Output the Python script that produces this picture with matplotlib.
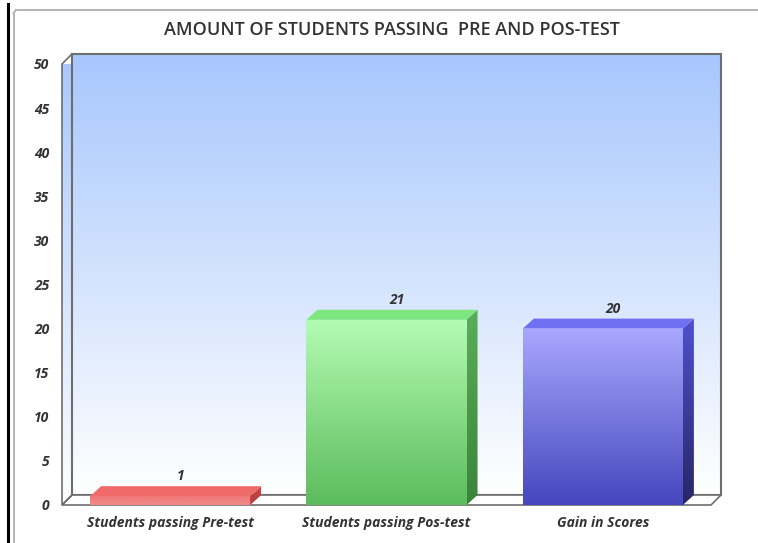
import numpy as np
import matplotlib
matplotlib.use("Agg")
import matplotlib.pyplot as plt
from matplotlib.patches import Polygon, Rectangle
from matplotlib.lines import Line2D
from matplotlib.colors import LinearSegmentedColormap

# ---------------- data ----------------
title = "AMOUNT OF STUDENTS PASSING  PRE AND POS-TEST"
categories = ["Students passing Pre-test", "Students passing Pos-test", "Gain in Scores"]
values = [1, 21, 20]
y_ticks = [0, 5, 10, 15, 20, 25, 30, 35, 40, 45, 50]

# colours (front top, front bottom, top face, side top, side bottom)
bar_colors = [
    ("#f07878", "#f08a8a", "#f06a6a", "#c84848", "#b03c3c"),
    ("#b4fcb4", "#5cbc5c", "#7ee67e", "#5aae5a", "#3a843a"),
    ("#a8a8ff", "#4646be", "#7070f2", "#5050d0", "#262664"),
]
wall_top, wall_bottom = "#a7c7fd", "#ffffff"
txt = "#333333"
font = "Open Sans"

W, H = 758, 543
fig = plt.figure(figsize=(W / 100, H / 100), dpi=100)
fig.patch.set_facecolor("white")
ax = fig.add_axes([62 / W, 1 - 505 / H, (711 - 62) / W, (505 - 64) / H])
ax.set_facecolor("none")
n = len(categories)
xmin, xmax = -0.5, n - 0.5
ymin, ymax = y_ticks[0], y_ticks[-1]


def px2data(dxp, dyp):
    inv = ax.transData.inverted()
    x0, y0 = inv.transform((0, 0))
    x1, y1 = inv.transform((dxp, dyp))
    return x1 - x0, y1 - y0


ax.set_xlim(xmin, xmax)
ax.set_ylim(ymin, ymax)
wdx, wdy = px2data(10, 10)
bdx, bdy = px2data(11, 10)

grad = np.linspace(0, 1, 256).reshape(-1, 1)
wall_cmap = LinearSegmentedColormap.from_list("wall", [wall_bottom, wall_top])
edge = "#6e6e6e"

# back wall
ax.imshow(grad, extent=(xmin + wdx, xmax + wdx, ymin + wdy, ymax + wdy), origin="lower",
          cmap=wall_cmap, aspect="auto", clip_on=False, zorder=0)
ax.add_patch(Rectangle((xmin + wdx, ymin + wdy), xmax - xmin, ymax - ymin, fill=False,
                       edgecolor=edge, lw=1.5, clip_on=False, zorder=1))
# left wall
lw_poly = Polygon([(xmin, ymin), (xmin, ymax), (xmin + wdx, ymax + wdy), (xmin + wdx, ymin + wdy)],
                  closed=True, facecolor="none", edgecolor=edge, lw=1.2, clip_on=False, zorder=1.2)
ax.add_patch(lw_poly)
im = ax.imshow(grad, extent=(xmin, xmin + wdx, ymin, ymax + wdy), origin="lower",
               cmap=wall_cmap, aspect="auto", zorder=0.5)
im.set_clip_path(lw_poly)
# floor
ax.add_patch(Polygon([(xmin, ymin), (xmax, ymin), (xmax + wdx, ymin + wdy), (xmin + wdx, ymin + wdy)],
                     closed=True, facecolor="white", edgecolor=edge, lw=1.2, clip_on=False, zorder=1.1))

# bars
width = 0.74
bars = ax.bar(range(n), values, width=width, color=[c[1] for c in bar_colors], zorder=3,
              linewidth=0)
for i, (rect, v, cols) in enumerate(zip(bars, values, bar_colors)):
    x0 = rect.get_x()
    x1 = x0 + rect.get_width()
    cm = LinearSegmentedColormap.from_list(f"f{i}", [cols[1], cols[0]])
    gi = ax.imshow(grad, extent=(x0, x1, 0, v), origin="lower", cmap=cm, aspect="auto", zorder=3.1)
    gi.set_clip_path(rect)
    # top face
    ax.add_patch(Polygon([(x0, v), (x1, v), (x1 + bdx, v + bdy), (x0 + bdx, v + bdy)], closed=True,
                         facecolor=cols[2], edgecolor="none", zorder=3.2, clip_on=False))
    # side face
    side = Polygon([(x1, 0), (x1, v), (x1 + bdx, v + bdy), (x1 + bdx, bdy)], closed=True,
                   facecolor="none", edgecolor="none", zorder=3.2, clip_on=False)
    ax.add_patch(side)
    cs = LinearSegmentedColormap.from_list(f"s{i}", [cols[4], cols[3]])
    si = ax.imshow(grad, extent=(x1, x1 + bdx, 0, v + bdy), origin="lower", cmap=cs, aspect="auto",
                   zorder=3.15, clip_on=True)
    si.set_clip_path(side)
    ax.annotate(str(v), (i, v), xytext=(10, 20), textcoords="offset pixels", ha="center",
                va="center", fontsize=10, fontstyle="italic", fontweight="bold", color=txt,
                family=font, zorder=5)

ax.set_xlim(xmin, xmax)
ax.set_ylim(ymin, ymax)
for s in ax.spines.values():
    s.set_visible(False)
ax.set_yticks(y_ticks)
ax.set_yticklabels([str(t) for t in y_ticks])
ax.set_xticks(range(n))
ax.set_xticklabels(categories)
ax.tick_params(length=0)
ax.tick_params(axis="y", pad=9)
ax.tick_params(axis="x", pad=8)
for lab in ax.get_yticklabels() + ax.get_xticklabels():
    lab.set_fontfamily(font)
    lab.set_fontstyle("italic")
    lab.set_fontweight("bold")
    lab.set_color(txt)
    lab.set_fontsize(10)

fig.text(392 / W, 1 - 30 / H, title, ha="center", va="center", fontsize=13, color=txt,
         family=font, fontweight="semibold")

# page frame
fig.add_artist(Line2D([8 / W, 8 / W], [0, 1 - 4 / H], color="black", lw=2.2))
fig.add_artist(Line2D([13.5 / W, 13.5 / W], [0, 1 - 13 / H], color="#b4b4b4", lw=1.4))
fig.add_artist(Line2D([16 / W, 1], [1 - 10 / H, 1 - 10 / H], color="#b4b4b4", lw=1.4))
fig.add_artist(Line2D([13.5 / W, 16 / W], [1 - 13 / H, 1 - 10 / H], color="#b4b4b4", lw=1.4))

fig.savefig("out.png", dpi=100, facecolor="white")
